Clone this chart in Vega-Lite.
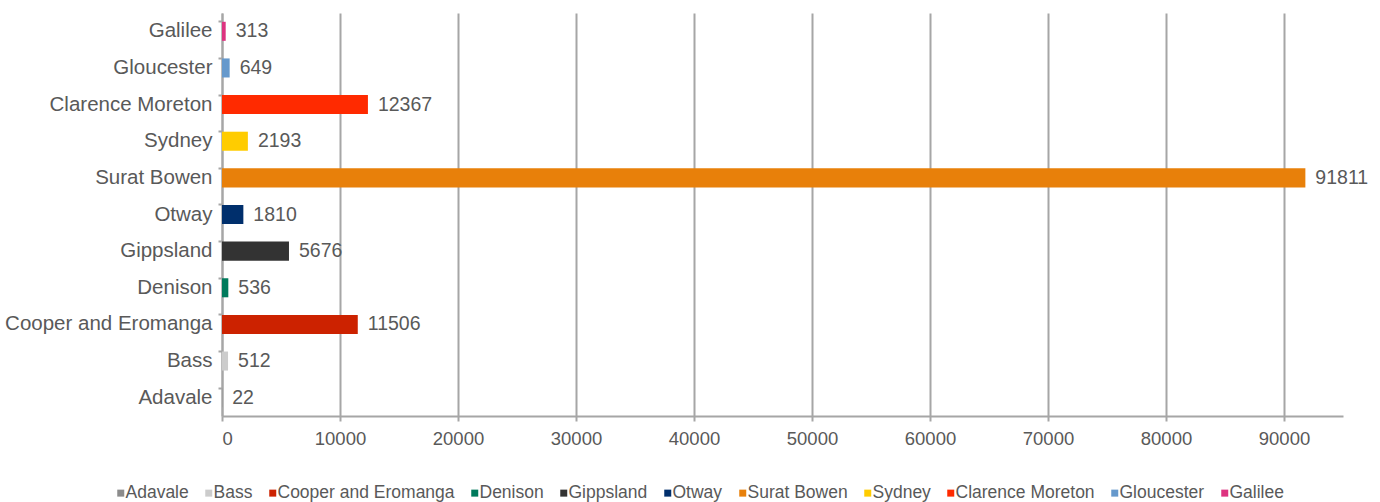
{
  "$schema": "https://vega.github.io/schema/vega-lite/v6.json",
  "width": 1121,
  "height": 403,
  "autosize": {"type": "none"},
  "padding": {"top": 13, "left": 222, "right": 37, "bottom": 86},
  "background": "white",
  "config": {
    "font": "Liberation Sans",
    "view": {"stroke": null}
  },
  "data": {
    "values": [
      {"Basin": "Adavale", "Value": 22},
      {"Basin": "Bass", "Value": 512},
      {"Basin": "Cooper and Eromanga", "Value": 11506},
      {"Basin": "Denison", "Value": 536},
      {"Basin": "Gippsland", "Value": 5676},
      {"Basin": "Otway", "Value": 1810},
      {"Basin": "Surat Bowen", "Value": 91811},
      {"Basin": "Sydney", "Value": 2193},
      {"Basin": "Clarence Moreton", "Value": 12367},
      {"Basin": "Gloucester", "Value": 649},
      {"Basin": "Galilee", "Value": 313}
    ]
  },
  "encoding": {
    "y": {
      "field": "Basin",
      "type": "nominal",
      "sort": ["Galilee", "Gloucester", "Clarence Moreton", "Sydney", "Surat Bowen", "Otway", "Gippsland", "Denison", "Cooper and Eromanga", "Bass", "Adavale"],
      "scale": {"paddingInner": 0.48, "paddingOuter": 0.24},
      "axis": {
        "title": null,
        "bandPosition": 0,
        "domainColor": "#a6a6a6",
        "domainWidth": 2,
        "tickColor": "#a6a6a6",
        "tickWidth": 2,
        "tickSize": 4,
        "labelPadding": 6,
        "labelFontSize": 20.5,
        "labelColor": "#595959",
        "labelFont": "Liberation Sans",
        "labelLimit": 300
      }
    },
    "x": {
      "field": "Value",
      "type": "quantitative",
      "scale": {"domain": [0, 95000], "nice": false},
      "axis": {
        "title": null,
        "values": [0, 10000, 20000, 30000, 40000, 50000, 60000, 70000, 80000, 90000],
        "format": "d",
        "grid": true,
        "gridColor": "#a6a6a6",
        "gridWidth": 2,
        "domainColor": "#a6a6a6",
        "domainWidth": 2,
        "tickColor": "#a6a6a6",
        "tickWidth": 2,
        "tickSize": 5,
        "labelPadding": 8,
        "labelFontSize": 18.5,
        "labelColor": "#595959",
        "labelFont": "Liberation Sans"
      }
    }
  },
  "layer": [
    {
      "mark": {"type": "bar"},
      "encoding": {
        "color": {
          "field": "Basin",
          "type": "nominal",
          "scale": {
            "domain": ["Adavale", "Bass", "Cooper and Eromanga", "Denison", "Gippsland", "Otway", "Surat Bowen", "Sydney", "Clarence Moreton", "Gloucester", "Galilee"],
            "range": ["#8c8c8c", "#cccccc", "#cc2200", "#007a5c", "#333333", "#002f6c", "#e8800a", "#ffcc00", "#ff2a00", "#6699cc", "#dd3380"]
          },
          "legend": {
            "title": null,
            "orient": "none",
            "direction": "horizontal",
            "legendX": -110,
            "legendY": 471,
            "symbolType": "square",
            "symbolSize": 49,
            "symbolStrokeWidth": 0,
            "symbolOffset": 0,
            "labelOffset": -4,
            "columnPadding": 11,
            "labelFontSize": 17.5,
            "labelColor": "#595959",
            "labelFont": "Liberation Sans",
            "labelLimit": 300
          }
        }
      }
    },
    {
      "mark": {"type": "text", "align": "left", "baseline": "middle", "dx": 10, "fontSize": 19.5, "color": "#595959", "font": "Liberation Sans"},
      "encoding": {
        "text": {"field": "Value", "type": "quantitative", "format": "d"}
      }
    }
  ]
}
